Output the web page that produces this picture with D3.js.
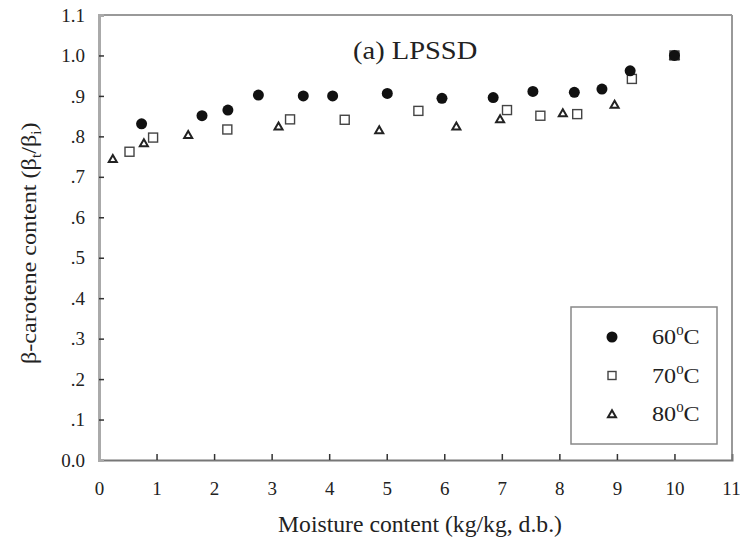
<!DOCTYPE html>
<html>
<head>
<meta charset="utf-8">
<script src="https://cdn.jsdelivr.net/npm/d3@7"></script>
<style>
  body { margin: 0; background: #fff; }
  text { font-family: "Liberation Serif", "Times New Roman", serif; fill: #222; }
</style>
</head>
<body>
<script>
// moisture content (kg/kg, d.b.) and beta-carotene retention
var x60 = [0.74, 1.79, 2.24, 2.77, 3.55, 4.06, 5.01, 5.96, 6.85, 7.54, 8.26, 8.74, 9.23, 10.0];
var y60 = [0.831, 0.851, 0.865, 0.902, 0.900, 0.900, 0.906, 0.894, 0.896, 0.911, 0.909, 0.917, 0.962, 1.0];

var x70 = [0.53, 0.94, 2.23, 3.32, 4.27, 5.55, 7.09, 7.67, 8.31, 9.26, 10.0];
var y70 = [0.762, 0.797, 0.817, 0.842, 0.841, 0.863, 0.865, 0.851, 0.855, 0.942, 1.0];

var x80 = [0.24, 0.78, 1.55, 3.12, 4.87, 6.21, 6.97, 8.06, 8.96, 10.0];
var y80 = [0.745, 0.784, 0.804, 0.825, 0.816, 0.825, 0.843, 0.858, 0.879, 1.0];

var xTicks = [0, 1, 2, 3, 4, 5, 6, 7, 8, 9, 10, 11];
var yTicks = [0, 0.1, 0.2, 0.3, 0.4, 0.5, 0.6, 0.7, 0.8, 0.9, 1.0, 1.1];
var yTickLabels = ["0.0", ".1", ".2", ".3", ".4", ".5", ".6", ".7", ".8", ".9", "1.0", "1.1"];
var legendLabels = ["60", "70", "80"];

var svg = d3.select("body").append("svg")
  .attr("width", 740)
  .attr("height", 539);

var x = d3.scaleLinear().domain([0, 11]).range([99, 732]);
var y = d3.scaleLinear().domain([0, 1.1]).range([460, 15]);

// frame: top and right thin, left and bottom heavier
svg.append("line").attr("x1", x(0)).attr("x2", x(11)).attr("y1", y(1.1)).attr("y2", y(1.1))
  .attr("stroke", "#999").attr("stroke-width", 2);
svg.append("line").attr("x1", x(11)).attr("x2", x(11)).attr("y1", y(1.1)).attr("y2", y(0))
  .attr("stroke", "#999").attr("stroke-width", 2);

var xAxis = svg.append("g")
  .attr("transform", "translate(0," + y(0) + ")")
  .call(d3.axisBottom(x).tickValues(xTicks).tickSize(-6).tickPadding(22).tickFormat(d3.format("d")));
xAxis.select(".domain").attr("stroke", "#777").attr("stroke-width", 2);
xAxis.selectAll(".tick line").attr("stroke", "#333").attr("stroke-width", 1.5);
xAxis.selectAll(".tick text").attr("font-size", 19).attr("font-family", "Liberation Serif").attr("fill", "#333");
xAxis.selectAll(".tick").filter(function(d){ return d === 0 || d === 11; }).select("line").remove();
// the last label sits at the right edge, nudge it in a bit
xAxis.selectAll(".tick").filter(function(d){ return d === 11; }).select("text").attr("dx", -1);

var yAxis = svg.append("g")
  .attr("transform", "translate(" + x(0) + ",0)")
  .call(d3.axisLeft(y).tickValues(yTicks).tickSize(-5).tickPadding(14)
    .tickFormat(function(d, i){ return yTickLabels[i]; }));
yAxis.select(".domain").attr("stroke", "#aaa").attr("stroke-width", 3);
yAxis.selectAll(".tick line").attr("stroke", "#333").attr("stroke-width", 1.5);
yAxis.selectAll(".tick text").attr("font-size", 19).attr("font-family", "Liberation Serif").attr("fill", "#333");
yAxis.selectAll(".tick").filter(function(d){ return d === 0 || d === 1.1; }).select("line").remove();

// markers
var sq = 9;
var tri = d3.symbol().type(d3.symbolTriangle).size(28);

svg.selectAll("rect.s70")
  .data(x70)
  .enter()
  .append("rect")
  .attr("class", "s70")
  .attr("x", function(d){ return x(d) - sq / 2; })
  .attr("y", function(d, i){ return y(y70[i]) - sq / 2; })
  .attr("width", sq)
  .attr("height", sq)
  .attr("fill", "#fff")
  .attr("stroke", "#444")
  .attr("stroke-width", 1.4);

svg.selectAll("path.s80")
  .data(x80)
  .enter()
  .append("path")
  .attr("class", "s80")
  .attr("d", tri)
  .attr("transform", function(d, i){ return "translate(" + x(d) + "," + (y(y80[i]) + 1) + ")"; })
  .attr("fill", "#fff")
  .attr("stroke", "#222")
  .attr("stroke-width", 2);

svg.selectAll("circle.s60")
  .data(x60)
  .enter()
  .append("circle")
  .attr("class", "s60")
  .attr("cx", function(d){ return x(d); })
  .attr("cy", function(d, i){ return y(y60[i]); })
  .attr("r", 5.5)
  .attr("fill", "#111");

// panel title
svg.append("text")
  .attr("transform", "translate(353,59) scale(1.14,1)")
  .attr("font-size", 25)
  .text("(a) LPSSD");

// axis titles
svg.append("text")
  .attr("transform", "translate(278,532) scale(1.03,1)")
  .attr("font-size", 23)
  .text("Moisture content (kg/kg, d.b.)");

var yl = svg.append("text")
  .attr("transform", "translate(36,364) rotate(-90) scale(1.1,1)")
  .attr("font-size", 22);
yl.append("tspan").text("\u03b2-carotene content (\u03b2");
yl.append("tspan").attr("font-size", 14).attr("dy", 5).text("t");
yl.append("tspan").attr("dy", -5).text("/\u03b2");
yl.append("tspan").attr("font-size", 14).attr("dy", 5).text("i");
yl.append("tspan").attr("dy", -5).text(")");

// legend
svg.append("rect")
  .attr("x", 571).attr("y", 307).attr("width", 146).attr("height", 137)
  .attr("fill", "#fff").attr("stroke", "#888").attr("stroke-width", 1.5);

var ly = d3.scaleLinear().domain([0, 2]).range([337, 414]);
var lx = 612;

svg.append("circle").attr("cx", lx).attr("cy", ly(0)).attr("r", 5.5).attr("fill", "#111");
svg.append("rect").attr("x", lx - 4).attr("y", ly(1) - 4).attr("width", 8).attr("height", 8)
  .attr("fill", "#fff").attr("stroke", "#444").attr("stroke-width", 1.4);
svg.append("path").attr("d", tri).attr("transform", "translate(" + lx + "," + (ly(2) + 1) + ")")
  .attr("fill", "#fff").attr("stroke", "#222").attr("stroke-width", 2);

legendLabels.forEach(function(t, i){
  var lt = svg.append("text")
    .attr("transform", "translate(652," + (ly(i) + 7) + ") scale(1.15,1)")
    .attr("font-size", 21);
  lt.append("tspan").text(t);
  lt.append("tspan").attr("font-size", 13).attr("dy", -9).text("0");
  lt.append("tspan").attr("dy", 9).text("C");
});
</script>
</body>
</html>
